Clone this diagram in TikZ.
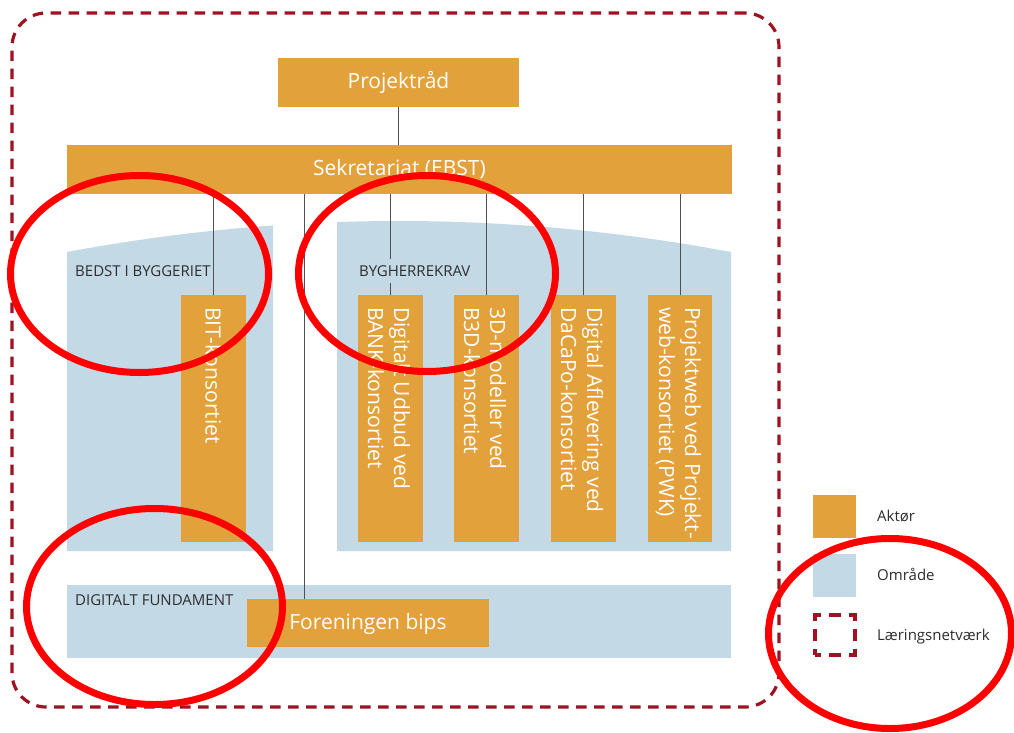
\documentclass[tikz,border=0pt]{standalone}
\usepackage{fontspec}
\setmainfont{Open Sans}
\definecolor{orange1}{RGB}{227,161,60}
\definecolor{blue1}{RGB}{196,217,230}
\definecolor{netred}{RGB}{158,18,34}
\definecolor{textgray}{RGB}{45,45,45}
\definecolor{linegray}{RGB}{80,80,80}
\begin{document}
\begin{tikzpicture}[x=1pt,y=-1pt,
  aktor/.style={fill=orange1, draw=none, inner sep=0pt, outer sep=0pt, text=white,
    font=\fontsize{21}{26}\selectfont, text height=15pt, text depth=2.5pt},
  vlabel/.style={rotate=-90, anchor=west, align=left, inner sep=0pt, text=white,
    font=\fontsize{21}{26}\selectfont},
  area/.style={fill=blue1, draw=none},
  arealabel/.style={font=\fontsize{15}{18}\selectfont, text=textgray, inner sep=0pt,
    text height=10.7pt, text depth=0pt, anchor=west},
  link/.style={draw=linegray, line width=1pt},
  netline/.style={draw=netred, line width=3.2pt, dash pattern=on 10.5pt off 7.5pt},
  ring/.style={draw=red, line width=7pt},
  legtext/.style={font=\fontsize{15}{18}\selectfont, text=textgray, inner sep=0pt,
    text height=10pt, text depth=0pt, anchor=west}
]
\useasboundingbox (0,0) rectangle (1014,733);
\fill[white] (0,0) rectangle (1014,733);

% learning network frame
\node[netline, rounded corners=34pt, minimum width=767pt, minimum height=694pt, inner sep=0pt] (net) at (395.5,360) {};

% areas
\fill[area] (67,551) -- plot[domain=67:273, samples=40] (\x,{221+31*((\x-399)/332)^2}) -- (273,551) -- cycle;
\fill[area] (337,551) -- plot[domain=337:731, samples=60] (\x,{221+31*((\x-399)/332)^2}) -- (731,551) -- cycle;
\fill[area] (67,585) rectangle (731,658);

% actors
\node[aktor, minimum width=241pt, minimum height=49pt] (proj) at (398.5,82.5) {Projektråd};
\node[aktor, minimum width=665pt, minimum height=49pt] (sek) at (399.5,169.5) {Sekretariat (EBST)};
\node[aktor, minimum width=65pt, minimum height=247pt] (bit) at (213.5,418.5) {};
\node[aktor, minimum width=65pt, minimum height=247pt] (bank) at (390.5,418.5) {};
\node[aktor, minimum width=65pt, minimum height=247pt] (b3d) at (486.5,418.5) {};
\node[aktor, minimum width=65pt, minimum height=247pt] (dacapo) at (583.5,418.5) {};
\node[aktor, minimum width=64pt, minimum height=247pt] (pwk) at (680,418.5) {};
\node[aktor, minimum width=242pt, minimum height=48pt] (bips) at (368,623) {Foreningen bips};

\node[vlabel] (bitt) at ([yshift=-12pt]bit.north) {BIT-konsortiet};
\node[vlabel] (bankt) at ([yshift=-12pt,xshift=-1.5pt]bank.north) {Digitalt Udbud ved\\BANK-konsortiet};
\node[vlabel] (b3dt) at ([yshift=-12pt,xshift=-1.5pt]b3d.north) {3D-modeller ved\\B3D-konsortiet};
\node[vlabel] (dacapot) at ([yshift=-12pt,xshift=-1.5pt]dacapo.north) {Digital Aflevering ved\\DaCaPo-konsortiet};
\node[vlabel] (pwkt) at ([yshift=-12pt,xshift=-1.5pt]pwk.north) {Projektweb ved Projekt-\\web-konsortiet (PWK)};

% connectors
\coordinate (fx) at (304,0);
\draw[link] (proj.south) -- (proj.south |- sek.north);
\draw[link] (bit.north) -- (bit.north |- sek.south);
\draw[link] (bank.north) -- (bank.north |- sek.south);
\draw[link] (b3d.north) -- (b3d.north |- sek.south);
\draw[link] (dacapo.north) -- (dacapo.north |- sek.south);
\draw[link] (pwk.north) -- (pwk.north |- sek.south);
\draw[link] (bips.north -| fx) -- (sek.south -| fx);

% area labels
\node[arealabel] (bedst) at (75,271) {BEDST I BYGGERIET};
\node[arealabel, fill=blue1, inner ysep=7pt] (byg) at (359,271) {BYGHERREKRAV};
\node[arealabel] (dig) at (75,600) {DIGITALT FUNDAMENT};

% legend
\node[aktor, minimum width=43pt, minimum height=43pt] (legA) at (834.5,516.5) {};
\node[legtext] (legAt) at (877,516.5) {Aktør};
\node[area, inner sep=0pt, minimum width=43pt, minimum height=43pt] (legO) at (834.5,575.5) {};
\node[legtext] (legOt) at (877,575.5) {Område};
\node[draw=netred, line width=4pt, inner sep=0pt, minimum width=40pt, minimum height=40pt,
  dash pattern=on 12pt off 8pt on 12pt off 8pt, dash phase=6pt] (legL) at (835,635) {};
\node[legtext] (legLt) at (877,635) {Læringsnetværk};

% red annotation rings
\draw[ring] (139.5,274) ellipse [x radius=129pt, y radius=98.5pt];
\draw[ring] (427,273.5) ellipse [x radius=128.5pt, y radius=98pt];
\draw[ring] (154.5,606.5) ellipse [x radius=128pt, y radius=98pt];
\draw[ring] (890,633.5) ellipse [x radius=121.5pt, y radius=95pt];
\end{tikzpicture}
\end{document}
